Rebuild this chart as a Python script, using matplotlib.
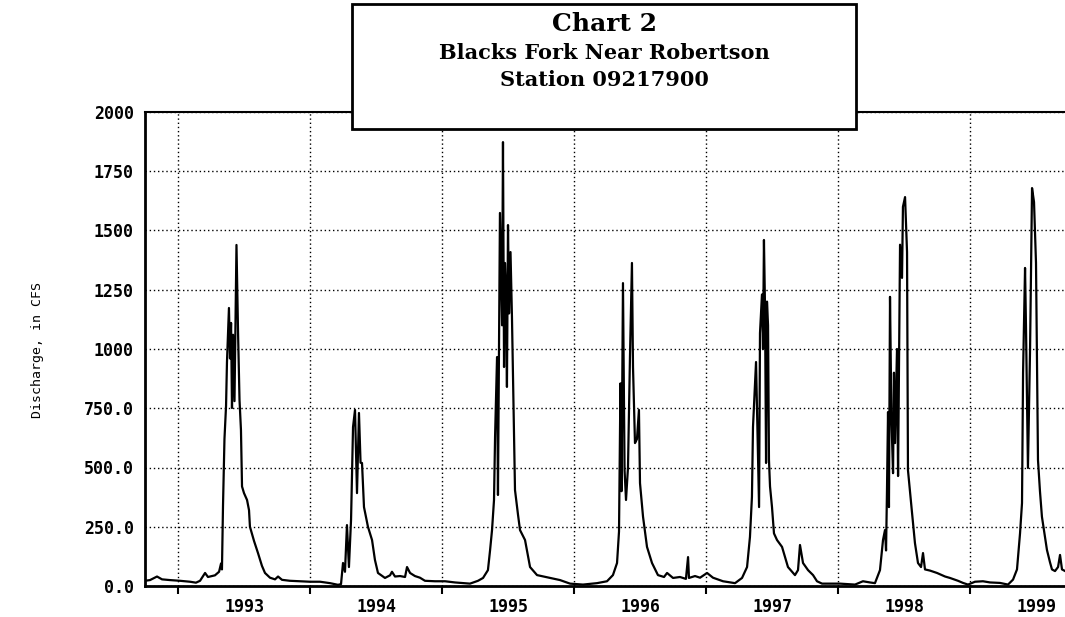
# Blacks Fork near Robertson - daily discharge, water years 1993-1999
import matplotlib.pyplot as plt
from matplotlib.patches import Rectangle

# data: time as decimal year, discharge in cfs
tid = [1992.750, 1992.788, 1992.841, 1992.879, 1992.939, 1993.015, 1993.091, 1993.136,
       1993.167, 1993.205, 1993.227, 1993.280, 1993.311, 1993.326, 1993.333, 1993.341,
       1993.352, 1993.364, 1993.371, 1993.386, 1993.394, 1993.402, 1993.409, 1993.417,
       1993.428, 1993.443, 1993.455, 1993.466, 1993.477, 1993.485, 1993.500, 1993.523,
       1993.538, 1993.545, 1993.576, 1993.606, 1993.636, 1993.659, 1993.697, 1993.735,
       1993.758, 1993.788, 1993.848, 1993.924, 1994.000, 1994.076, 1994.152, 1994.212,
       1994.235, 1994.250, 1994.265, 1994.280, 1994.295, 1994.311, 1994.326, 1994.341,
       1994.356, 1994.371, 1994.383, 1994.394, 1994.409, 1994.439, 1994.470, 1994.492,
       1994.515, 1994.568, 1994.606, 1994.621, 1994.644, 1994.682, 1994.720, 1994.735,
       1994.758, 1994.795, 1994.833, 1994.871, 1994.947, 1995.023, 1995.098, 1995.212,
       1995.273, 1995.311, 1995.348, 1995.364, 1995.379, 1995.394, 1995.402, 1995.417,
       1995.424, 1995.439, 1995.455, 1995.462, 1995.470, 1995.477, 1995.485, 1995.492,
       1995.500, 1995.508, 1995.519, 1995.530, 1995.542, 1995.553, 1995.576, 1995.591,
       1995.629, 1995.667, 1995.720, 1995.818, 1995.894, 1995.970, 1996.068, 1996.174,
       1996.250, 1996.295, 1996.326, 1996.341, 1996.352, 1996.360, 1996.371, 1996.383,
       1996.394, 1996.409, 1996.424, 1996.439, 1996.447, 1996.462, 1996.477, 1996.492,
       1996.500, 1996.523, 1996.553, 1996.591, 1996.636, 1996.682, 1996.705, 1996.750,
       1996.803, 1996.848, 1996.864, 1996.871, 1996.917, 1996.955, 1997.008, 1997.053,
       1997.129, 1997.220, 1997.273, 1997.311, 1997.333, 1997.348, 1997.356, 1997.379,
       1997.390, 1997.402, 1997.409, 1997.424, 1997.432, 1997.439, 1997.447, 1997.455,
       1997.462, 1997.470, 1997.477, 1997.485, 1997.500, 1997.515, 1997.538, 1997.576,
       1997.621, 1997.674, 1997.697, 1997.712, 1997.735, 1997.773, 1997.811, 1997.841,
       1997.879, 1998.015, 1998.129, 1998.189, 1998.242, 1998.280, 1998.318, 1998.341,
       1998.356, 1998.364, 1998.371, 1998.379, 1998.386, 1998.394, 1998.405, 1998.417,
       1998.424, 1998.432, 1998.447, 1998.455, 1998.470, 1998.485, 1998.492, 1998.508,
       1998.523, 1998.530, 1998.545, 1998.561, 1998.583, 1998.606, 1998.629, 1998.644,
       1998.659, 1998.697, 1998.750, 1998.811, 1998.848, 1998.909, 1998.947, 1998.985,
       1999.038, 1999.098, 1999.152, 1999.227, 1999.288, 1999.326, 1999.356, 1999.379,
       1999.394, 1999.402, 1999.417, 1999.424, 1999.439, 1999.455, 1999.470, 1999.485,
       1999.500, 1999.515, 1999.530, 1999.545, 1999.583, 1999.606, 1999.621, 1999.644,
       1999.667, 1999.682, 1999.697, 1999.720, 1999.750]

flode = [22, 25, 40, 28, 25, 22, 18, 14,
         22, 55, 38, 45, 60, 95, 70, 340,
         620, 760, 945, 1173, 960, 1110, 751, 1060,
         780, 1439, 1067, 785, 658, 420, 392, 363,
         320, 250, 190, 139, 85, 55, 35, 28,
         40, 26, 22, 20, 18, 18, 12, 5,
         8, 97, 60, 257, 80, 280, 671, 743,
         392, 730, 520, 519, 333, 250, 194, 110,
         55, 34, 45, 60, 40, 42, 38, 80,
         55, 42, 35, 22, 20, 20, 15, 10,
         22, 34, 67, 150, 236, 363, 629, 966,
         384, 1574, 1100, 1873, 924, 1363, 1250, 840,
         1523, 1150, 1409, 1135, 743, 405, 300, 236,
         194, 80, 46, 34, 25, 10, 6, 12,
         20, 46, 97, 230, 855, 400, 1278, 489,
         363, 500, 966, 1363, 924, 603, 620, 743,
         434, 292, 165, 97, 46, 38, 55, 34,
         38, 30, 122, 34, 42, 35, 55, 35,
         20, 12, 34, 80, 207, 376, 671, 945,
         646, 333, 1067, 1230, 1000, 1460, 1180, 519,
         1200, 1100, 532, 420, 333, 222, 194, 165,
         80, 46, 67, 173, 97, 67, 46, 20,
         10, 10, 6, 20, 15, 12, 67, 194,
         236, 150, 400, 734, 333, 1220, 700, 476,
         900, 603, 1000, 464, 1440, 1300, 1600, 1641,
         1409, 489, 400, 308, 181, 97, 80, 139,
         70, 65, 55, 40, 34, 22, 13, 6,
         18, 20, 15, 13, 6, 27, 70, 222,
         350, 900, 1342, 1100, 498, 1000, 1679, 1620,
         1363, 532, 400, 292, 152, 100, 70, 63,
         80, 131, 70, 63, 55]

ar = [1993, 1994, 1995, 1996, 1997, 1998, 1999]
ytick_varden = [0, 250, 500, 750, 1000, 1250, 1500, 1750, 2000]
ytick_text = ["0.0", "250.0", "500.0", "750.0", "1000", "1250", "1500", "1750", "2000"]
rubrik = ["Chart 2", "Blacks Fork Near Robertson", "Station 09217900"]

# figur och axlar (placering i pixlar omraknad till andelar)
W, H = 1065, 617
fig = plt.figure(figsize=(W / 100, H / 100), dpi=100)
ax = fig.add_axes([145 / W, 1 - 586 / H, (1069 - 145) / W, (586 - 112) / H])

ax.plot(tid, flode, color="black", linewidth=1.6)

ax.set_xlim(1992.75, 1999.75)
ax.set_ylim(0, 2000)

# stora tickar vid arsskiften, arstal mitt i aret
ax.set_xticks(ar)
ax.set_xticklabels([])
ax.set_xticks([a + 0.5 for a in ar], minor=True)
ax.set_xticklabels([str(a) for a in ar], minor=True,
                   fontfamily="DejaVu Sans Mono", fontweight="bold", fontsize=12)
ax.tick_params(axis="x", which="major", direction="out", length=6, width=1.5, color="black")
ax.tick_params(axis="x", which="minor", length=0, pad=9)

ax.set_yticks(ytick_varden)
ax.set_yticklabels(ytick_text, fontfamily="DejaVu Sans Mono", fontweight="bold", fontsize=12)
ax.tick_params(axis="y", length=0, pad=8)

ax.grid(True, which="major", color="black", linestyle=(0, (1, 2)), linewidth=1)

for side in ["left", "bottom"]:
    ax.spines[side].set_linewidth(2)
ax.spines["top"].set_linewidth(1.5)
ax.spines["right"].set_visible(False)

fig.text(38 / W, 1 - 350 / H, "Discharge, in CFS", rotation=90, ha="center", va="center",
         fontfamily="DejaVu Sans Mono", fontsize=9.5)

# rubrikruta ovanpa diagrammet
x0, x1, y0, y1 = 352, 856, 4, 129
ruta = Rectangle((x0 / W, 1 - y1 / H), (x1 - x0) / W, (y1 - y0) / H, transform=fig.transFigure,
                 facecolor="white", edgecolor="black", linewidth=2, zorder=5)
fig.patches.append(ruta)
xc = (x0 + x1) / 2 / W
fig.text(xc, 1 - 24 / H, rubrik[0], ha="center", va="center", fontfamily="DejaVu Serif",
         fontweight="bold", fontsize=18, zorder=6)
fig.text(xc, 1 - 53 / H, rubrik[1], ha="center", va="center", fontfamily="DejaVu Serif",
         fontweight="bold", fontsize=15, zorder=6)
fig.text(xc, 1 - 80 / H, rubrik[2], ha="center", va="center", fontfamily="DejaVu Serif",
         fontweight="bold", fontsize=15, zorder=6)

fig.savefig("out.png", dpi=100)
